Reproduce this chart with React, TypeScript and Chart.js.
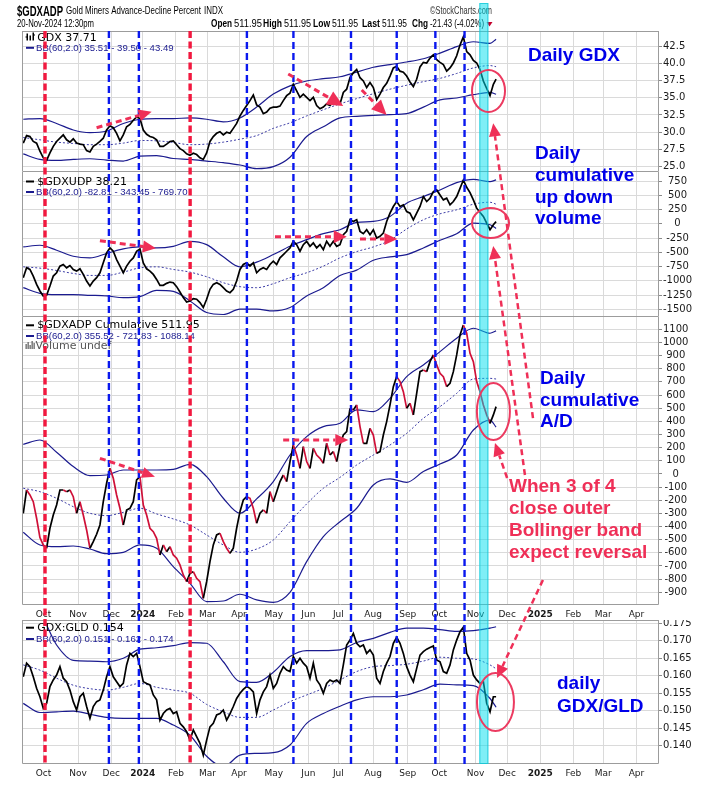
import React, { useEffect, useRef } from "react";
import { Chart, registerables } from "chart.js";

Chart.register(...registerables);

// ---------------- time axis (trading-day index) ----------------
const monthTicks = [14, 36, 57, 77, 98, 118, 138, 160, 182, 201, 223, 245, 265, 288, 308, 329, 350, 369, 390];
const monthLabels = ["Oct", "Nov", "Dec", "2024", "Feb", "Mar", "Apr", "May", "Jun", "Jul", "Aug", "Sep", "Oct", "Nov", "Dec", "2025", "Feb", "Mar", "Apr"];
const X_MIN = 0.4;
const X_MAX = 404.3;

// samples roughly every 2.1 trading days, last sample = 20-Nov-2024
const SAMPLE_COUNT = 142;
const FIRST_DAY = 1.2;
const DAY_STEP = 2.114;
const LAST_DAY = 301;
const sampleDays = [...Array.from({ length: SAMPLE_COUNT }, (_, k) => FIRST_DAY + DAY_STEP * k), LAST_DAY];
const bandDays = sampleDays.filter((_, k) => k % 5 === 0 && k <= 140).concat([LAST_DAY]);

// annotation marks (trading-day index)
const redMarks = [15, 107];
const blueMarks = [55.5, 74.5, 143, 172.5, 209, 238, 262.5, 281];
const cyanSpan = [290.4, 296.1];

// ---------------- GDX ----------------
const gdxClose = [
  28.42, 29.51, 29.37, 28.66, 28.42, 27.24, 26.29, 25.91, 27.0, 27.95,
  28.66, 29.13, 29.61, 28.9, 28.56, 29.04, 28.42, 28.28, 28.19, 27.33,
  27.14, 27.95, 28.28, 28.66, 29.13, 30.32, 30.93, 30.65, 29.84, 28.75,
  29.61, 30.79, 31.12, 31.74, 32.21, 31.98, 30.32, 29.7, 29.37, 29.23,
  28.9, 27.95, 27.95, 28.28, 28.66, 28.75, 28.19, 27.62, 27.33, 26.86,
  26.67, 26.95, 26.76, 26.29, 26.05, 27.0, 28.66, 29.37, 29.84, 30.08,
  29.61, 29.99, 29.84, 30.56, 31.27, 32.36, 33.16, 33.87, 34.58, 35.39,
  33.97, 33.64,
  32.69, 32.93, 33.49, 33.64, 33.64, 33.78, 34.58, 35.3, 35.67, 36.95,
  36.01, 35.06, 35.53, 35.06, 34.58, 35.06, 33.87, 33.4, 33.64, 34.11,
  33.87, 34.35, 34.11, 34.11, 35.77, 36.24, 37.9, 38.61, 39.09, 37.9,
  37.43, 36.48, 37.19, 36.48, 34.73, 35.53, 36.48, 37.1, 38.14, 39.32,
  39.56, 38.85, 38.71, 38.14, 37.29, 36.62, 37.67, 39.47, 40.13, 40.04,
  40.75, 41.22, 40.51, 40.13, 39.8, 38.85, 39.32, 40.04, 41.08, 42.64,
  43.83, 41.69, 41.22, 40.41, 40.04, 39.09, 37.43, 36.34, 35.3, 36.95,
  37.71,
];
const gdxUpper = [31.88, 31.98, 31.27, 30.32, 29.94, 30.18, 31.27, 31.88, 31.98, 31.98, 32.07, 31.88, 31.5, 32.07, 33.64, 35.53, 36.72, 37.43, 37.76, 38.04, 38.71, 39.42, 39.8, 40.18, 40.65, 41.46, 42.41, 43.12, 42.88, 43.49];
const gdxMid = [29.23, 28.9, 28.56, 28.37, 28.19, 28.19, 28.42, 28.8, 28.75, 28.52, 28.19, 28.28, 28.56, 28.99, 29.51, 30.56, 31.36, 32.36, 33.26, 34.11, 34.87, 35.58, 36.24, 36.81, 37.33, 37.81, 38.52, 39.32, 39.66, 39.5];
const gdxLower = [26.86, 26.05, 25.91, 26.05, 26.15, 25.96, 25.82, 26.53, 26.62, 26.19, 26.05, 25.82, 25.58, 25.25, 24.72, 25.01, 26.38, 29.37, 30.79, 32.07, 32.31, 32.45, 32.55, 32.69, 33.64, 34.68, 34.96, 35.44, 35.77, 35.51];
const gdxTicks = [25, 27.5, 30, 32.5, 35, 37.5, 40, 42.5];

// ---------------- $GDXUDP ----------------
const udpClose = [
  -946, -772, -801, -917, -1063, -1179, -1266, -1254, -1092, -917,
  -859, -743, -714, -772, -732, -801, -830, -790, -888, -1005,
  -1092, -1005, -946, -859, -685, -511, -424, -482, -627, -743,
  -859, -743, -656, -598, -482, -441, -685, -790, -830, -888,
  -976, -1080, -1080, -1045, -1022, -1034, -1103, -1196, -1295, -1371,
  -1353, -1313, -1324, -1382, -1469, -1324, -1150, -1063, -1034, -1063,
  -1121, -1179, -1208, -1150, -1005, -801, -714, -685, -743, -685,
  -859, -801,
  -772, -801, -714, -656, -714, -598, -540, -482, -424, -307,
  -366, -482, -366, -307, -395, -336, -424, -366, -453, -307,
  -395, -307, -395, -366, -191, -133, 70, 41, 70, -133,
  -174, -104, -191, -104, -249, -220, -162, 41, 186, 303,
  390, 303, 332, 215, 186, 70, 186, 303, 477, 390,
  448, 564, 593, 506, 419, 448, 332, 390, 477, 622,
  767, 640, 547, 419, 274, 198, 128, 12, -104, -17,
  38,
];
const udpUpper = [-406, -377, -464, -569, -598, -522, -441, -406, -424, -395, -307, -366, -580, -755, -673, -540, -395, -278, -174, -104, 24, 41, 128, 361, 477, 593, 721, 779, 738, 770];
const udpMid = [-755, -778, -819, -871, -906, -906, -848, -772, -755, -801, -848, -929, -1034, -1103, -1121, -1051, -946, -859, -743, -598, -488, -406, -290, -92, 70, 175, 245, 343, 378, 343];
const udpLower = [-1121, -1220, -1243, -1243, -1254, -1266, -1295, -1278, -1167, -1185, -1353, -1557, -1591, -1498, -1498, -1528, -1469, -1266, -1121, -906, -813, -639, -580, -540, -424, -290, -174, 12, -17, -83];
const udpTicks = [-1500, -1250, -1000, -750, -500, -250, 0, 250, 500, 750];

// ---------------- $GDXADP cumulative ----------------
const adpClose = [
  -299, -122, -160, -211, -337, -484, -540, -565, -413, -312,
  -236, -122, -122, -135, -122, -173, -299, -211, -312, -426,
  -565, -515, -459, -388, -211, -71, 43, -33, -160, -261,
  -388, -274, -261, -211, -45, -20, -236, -312, -413, -439,
  -489, -616, -540, -591, -553, -616, -641, -692, -768, -819,
  -756, -743, -794, -819, -946, -819, -667, -540, -464, -451,
  -515, -565, -604, -565, -413, -287, -198, -173, -185, -261,
  -375, -299,
  -274, -299, -135, -211, -135, -58, -8, -58, 94, 220,
  144, 43, 208, 94, 43, 195, 144, 119, 81, 233,
  144, 170, 94, 220, 296, 322, 499, 487, 525, 360,
  233, 233, 347, 296, 157, 170, 296, 398, 525, 664,
  740, 702, 626, 499, 537, 449, 613, 778, 791, 778,
  854, 905, 829, 765, 740, 664, 689, 778, 905, 1057,
  1133, 1070, 917, 854, 702, 626, 525, 449, 385, 449,
  512,
];
const adpUpper = [225, 258, 165, 56, -13, -8, 30, 30, 30, 35, 73, -20, -185, -299, -190, -58, 144, 284, 360, 385, 487, 474, 575, 740, 829, 930, 1032, 1108, 1070, 1088];
const adpMid = [-109, -135, -185, -249, -299, -317, -292, -261, -304, -342, -388, -464, -540, -596, -571, -502, -363, -228, -109, -26, 68, 144, 220, 309, 423, 512, 613, 722, 727, 722];
const adpLower = [-444, -540, -553, -548, -571, -606, -596, -540, -565, -705, -832, -971, -966, -915, -958, -976, -900, -667, -477, -363, -261, -84, -38, -64, 18, 76, 144, 334, 410, 356];
const adpTicks = [-900, -800, -700, -600, -500, -400, -300, -200, -100, 0, 100, 200, 300, 400, 500, 600, 700, 800, 900, 1000, 1100];

// ---------------- GDX:GLD ----------------
const ratioClose = [
  0.1597, 0.1636, 0.1626, 0.1597, 0.1564, 0.154, 0.1507, 0.1521, 0.1569, 0.1588,
  0.1602, 0.1626, 0.1593, 0.1583, 0.1559, 0.1526, 0.1502, 0.154, 0.155, 0.1512,
  0.1478, 0.1512, 0.1526, 0.1531, 0.1559, 0.1597, 0.1626, 0.1597, 0.1583, 0.1569,
  0.1578, 0.1631, 0.1664, 0.1655, 0.1664, 0.1626, 0.1583, 0.1578, 0.1574, 0.1545,
  0.1531, 0.1473, 0.1492, 0.1502, 0.1507, 0.1492, 0.1497, 0.1464, 0.1454, 0.144,
  0.1416, 0.1445, 0.1426, 0.1407, 0.1373, 0.1416, 0.1454, 0.1464, 0.1488, 0.1492,
  0.1502, 0.1473, 0.1491, 0.1512, 0.1535, 0.155, 0.1561, 0.1569, 0.1564, 0.1554,
  0.1492, 0.1531,
  0.1554, 0.1569, 0.1602, 0.1564, 0.1578, 0.1607, 0.1626, 0.1616, 0.1612, 0.1655,
  0.1636, 0.165, 0.1636, 0.1626, 0.1593, 0.1636, 0.1588, 0.1574, 0.155, 0.1578,
  0.1588, 0.1583, 0.1588, 0.1578, 0.1631, 0.1688, 0.1702, 0.1721, 0.1693, 0.1683,
  0.1688, 0.1664, 0.1674, 0.1659, 0.1593, 0.1578, 0.1612, 0.1636, 0.1655, 0.1693,
  0.171, 0.1693, 0.1664, 0.1626, 0.1602, 0.1583, 0.1621, 0.1659, 0.1669, 0.1676,
  0.1681, 0.1685, 0.1645, 0.164, 0.1612, 0.1607, 0.1631, 0.1674, 0.1702, 0.1726,
  0.1739, 0.1664, 0.1645, 0.1602, 0.1588, 0.1578, 0.1583, 0.1521, 0.1497, 0.154,
  0.154,
];
const ratioUpper = [0.181, 0.178, 0.1688, 0.1644, 0.1642, 0.164, 0.165, 0.1676, 0.168, 0.1686, 0.1695, 0.1693, 0.164, 0.1583, 0.1581, 0.161, 0.1655, 0.1672, 0.1672, 0.1674, 0.1695, 0.1707, 0.1724, 0.1736, 0.1736, 0.1732, 0.1727, 0.1729, 0.1736, 0.174];
const ratioMid = [0.1631, 0.1616, 0.1593, 0.1573, 0.1563, 0.1559, 0.1567, 0.1578, 0.1567, 0.1559, 0.155, 0.1518, 0.1497, 0.1481, 0.1481, 0.1502, 0.1526, 0.1545, 0.1564, 0.1588, 0.1612, 0.1626, 0.1629, 0.1633, 0.1642, 0.1653, 0.165, 0.1648, 0.1631, 0.162];
const ratioLower = [0.1521, 0.1495, 0.1497, 0.1499, 0.149, 0.1481, 0.1478, 0.1478, 0.1478, 0.1459, 0.143, 0.137, 0.134, 0.1373, 0.1378, 0.138, 0.1402, 0.1464, 0.1492, 0.1513, 0.1531, 0.154, 0.154, 0.1545, 0.156, 0.1576, 0.1574, 0.1572, 0.1535, 0.151];
const ratioTicks = [0.14, 0.145, 0.15, 0.155, 0.16, 0.165, 0.17, 0.175];

// ---------------- styling ----------------
const W = 701;
const H = 785;
const GRID = "#dadada";
const FRAME = "#9c9c9c";
const NAVY = "#1b1b8f";
const DOWN_RED = "#cf1038";
const MARK_RED = "#f2183f";
const MARK_BLUE = "#0a18ee";
const ANNO_RED = "#ef2f57";
const TEXT_BLUE = "#0000ea";

type Panel = {
  top: number; height: number; labelRow: number; min: number; max: number;
  ticks: number[]; fmt: (v: number) => string; main: number[]; upper: number[]; mid: number[]; lower: number[];
  updown: boolean; frameTop: boolean; legend1: string; legend2: string;
};

const PANELS: Panel[] = [
  { top: 31, height: 141, labelRow: 0, min: 24.232, max: 44.675, ticks: gdxTicks, fmt: (v) => v.toFixed(1), main: gdxClose, upper: gdxUpper, mid: gdxMid, lower: gdxLower, updown: false, frameTop: true, legend1: "GDX 37.71", legend2: "BB(60,2.0) 35.51 - 39.50 - 43.49" },
  { top: 172, height: 145, labelRow: 0, min: -1635, max: 908, ticks: udpTicks, fmt: (v) => String(Math.round(v)), main: udpClose, upper: udpUpper, mid: udpMid, lower: udpLower, updown: false, frameTop: false, legend1: "$GDXUDP 38.21", legend2: "BB(60,2.0) -82.81 - 343.45 - 769.70" },
  { top: 317, height: 288, labelRow: 15, min: -996.6, max: 1193.5, ticks: adpTicks, fmt: (v) => String(Math.round(v)), main: adpClose, upper: adpUpper, mid: adpMid, lower: adpLower, updown: true, frameTop: false, legend1: "$GDXADP Cumulative 511.95", legend2: "BB(60,2.0) 355.52 - 721.83 - 1088.14" },
  { top: 620, height: 144, labelRow: 16, min: 0.13477, max: 0.17594, ticks: ratioTicks, fmt: (v) => v.toFixed(3), main: ratioClose, upper: ratioUpper, mid: ratioMid, lower: ratioLower, updown: false, frameTop: true, legend1: "GDX:GLD 0.154", legend2: "BB(60,2.0) 0.151 - 0.162 - 0.174" },
];

const zip = (xs: number[], ys: number[]) => ys.map((y, i) => ({ x: xs[i], y }));

function framePlugin(frameTop: boolean) {
  return {
    id: "frame",
    afterDraw(chart: any) {
      const { ctx, chartArea: a } = chart;
      ctx.save();
      ctx.strokeStyle = FRAME;
      ctx.lineWidth = 1;
      ctx.beginPath();
      if (frameTop) {
        ctx.moveTo(a.left + 0.5, a.top + 0.5);
        ctx.lineTo(a.right - 0.5, a.top + 0.5);
      }
      ctx.moveTo(a.left + 0.5, a.top);
      ctx.lineTo(a.left + 0.5, a.bottom - 0.5);
      ctx.lineTo(a.right - 0.5, a.bottom - 0.5);
      ctx.lineTo(a.right - 0.5, a.top);
      ctx.stroke();
      ctx.restore();
    },
  };
}

function makeChart(canvas: HTMLCanvasElement, p: Panel): Chart {
  const showX = p.labelRow > 0;
  const band = (data: number[], dash: number[] | undefined, width: number, color: string) => ({
    data: zip(bandDays, data),
    borderColor: color,
    borderWidth: width,
    borderDash: dash,
    pointRadius: 0,
    fill: false,
    cubicInterpolationMode: "monotone" as const,
  });
  return new Chart(canvas, {
    type: "line",
    data: {
      datasets: [
        {
          data: zip(sampleDays, p.main),
          borderColor: "#000",
          borderWidth: 1.7,
          pointRadius: 0,
          fill: false,
          tension: 0,
          segment: p.updown
            ? { borderColor: (c: any) => (c.p1.parsed.y < c.p0.parsed.y ? DOWN_RED : "#000") }
            : undefined,
        } as any,
        band(p.upper, undefined, 1.2, NAVY),
        band(p.mid, [2, 2], 1, "#3c3ca6"),
        band(p.lower, undefined, 1.2, NAVY),
      ],
    },
    options: {
      animation: false,
      responsive: false,
      maintainAspectRatio: false,
      events: [],
      layout: { padding: { left: 22, right: 0, top: 0, bottom: 0 } },
      plugins: { legend: { display: false }, tooltip: { enabled: false } },
      scales: {
        x: {
          type: "linear",
          min: X_MIN,
          max: X_MAX,
          afterBuildTicks: (s: any) => {
            s.ticks = monthTicks.map((v) => ({ value: v }));
          },
          afterFit: (s: any) => {
            s.height = p.labelRow;
            s.paddingLeft = 0;
            s.paddingRight = 0;
          },
          grid: { color: GRID, drawTicks: false, lineWidth: 1 },
          border: { display: false },
          ticks: {
            display: showX,
            autoSkip: false,
            maxRotation: 0,
            padding: 4,
            color: "#1a1a1a",
            callback: (_v: any, i: number) => monthLabels[i],
            font: (c: any) => ({
              family: "DejaVu Sans",
              size: 9,
              weight: /^\d{4}$/.test(monthLabels[c.index] || "") ? "bold" : "normal",
            }),
          },
        },
        y: {
          type: "linear",
          position: "right",
          min: p.min,
          max: p.max,
          afterBuildTicks: (s: any) => {
            s.ticks = p.ticks.map((v) => ({ value: v }));
          },
          afterFit: (s: any) => {
            s.width = 42;
            s.paddingTop = 0;
            s.paddingBottom = 0;
          },
          grid: { color: GRID, tickLength: 3, tickColor: "#8a8a8a", lineWidth: 1 },
          border: { display: false },
          ticks: {
            autoSkip: false,
            crossAlign: "center",
            padding: 1,
            color: "#1a1a1a",
            font: { family: "DejaVu Sans", size: 10 },
            callback: (v: any) => p.fmt(Number(v)),
          },
        },
      },
    } as any,
    plugins: [framePlugin(p.frameTop)],
  });
}

type Anchor = { p: number; t: number; v: number };
type Arrow = { from: Anchor; to: Anchor; head: number; width: number; lw: number };

const shortArrows: Arrow[] = [
  { from: { p: 0, t: 47.7, v: 30.65 }, to: { p: 0, t: 82.6, v: 32.97 }, head: 13, width: 12, lw: 3 },
  { from: { p: 0, t: 169.2, v: 38.44 }, to: { p: 0, t: 204.1, v: 33.8 }, head: 16, width: 15, lw: 3 },
  { from: { p: 0, t: 215.8, v: 36.12 }, to: { p: 0, t: 231.6, v: 32.5 }, head: 15, width: 14, lw: 3 },
  { from: { p: 1, t: 49.8, v: -297 }, to: { p: 1, t: 85.3, v: -430 }, head: 13, width: 12, lw: 3 },
  { from: { p: 1, t: 160.8, v: -227 }, to: { p: 1, t: 206.3, v: -227 }, head: 13, width: 13, lw: 3 },
  { from: { p: 1, t: 214.7, v: -265 }, to: { p: 1, t: 238.4, v: -265 }, head: 13, width: 12, lw: 3 },
  { from: { p: 2, t: 49.8, v: 119 }, to: { p: 2, t: 84.7, v: -21 }, head: 13, width: 11, lw: 3 },
  { from: { p: 2, t: 166, v: 258 }, to: { p: 2, t: 207.3, v: 258 }, head: 13, width: 12, lw: 3 },
];
const longArrows: Arrow[] = [
  { from: { p: 2, t: 324.4, v: 425 }, to: { p: 0, t: 299.2, v: 31.29 }, head: 13, width: 12, lw: 2.5 },
  { from: { p: 2, t: 319.3, v: -8 }, to: { p: 1, t: 299.2, v: -390 }, head: 13, width: 12, lw: 2.5 },
  { from: { p: 2, t: 308, v: -31 }, to: { p: 2, t: 300.3, v: 235 }, head: 13, width: 12, lw: 2.5 },
  { from: { p: 2, t: 330.7, v: -806 }, to: { p: 3, t: 301.6, v: 0.15936 }, head: 13, width: 12, lw: 2.5 },
];
const circles = [
  { c: { p: 0, t: 296.2, v: 35.98 }, rx: 16.5, ry: 21 },
  { c: { p: 1, t: 297.5, v: 13 }, rx: 18.5, ry: 15 },
  { c: { p: 2, t: 299.3, v: 475 }, rx: 16.5, ry: 28.5 },
  { c: { p: 3, t: 300.6, v: 0.1525 }, rx: 18.5, ry: 29 },
];

function drawArrow(ctx: CanvasRenderingContext2D, x0: number, y0: number, x1: number, y1: number, a: Arrow) {
  const ang = Math.atan2(y1 - y0, x1 - x0);
  const bx = x1 - a.head * Math.cos(ang);
  const by = y1 - a.head * Math.sin(ang);
  ctx.save();
  ctx.strokeStyle = ANNO_RED;
  ctx.fillStyle = ANNO_RED;
  ctx.lineWidth = a.lw;
  ctx.setLineDash([6, 4]);
  ctx.beginPath();
  ctx.moveTo(x0, y0);
  ctx.lineTo(bx, by);
  ctx.stroke();
  ctx.setLineDash([]);
  const hw = a.width / 2;
  ctx.beginPath();
  ctx.moveTo(x1, y1);
  ctx.lineTo(bx + hw * Math.sin(ang), by - hw * Math.cos(ang));
  ctx.lineTo(bx - hw * Math.sin(ang), by + hw * Math.cos(ang));
  ctx.closePath();
  ctx.fill();
  ctx.restore();
}

function drawOverlay(cv: HTMLCanvasElement, charts: Chart[]) {
  const dpr = window.devicePixelRatio || 1;
  cv.width = W * dpr;
  cv.height = H * dpr;
  const ctx = cv.getContext("2d")!;
  ctx.setTransform(dpr, 0, 0, dpr, 0, 0);
  const xs: any = charts[0].scales.x;
  const X = (t: number) => xs.getPixelForValue(t);
  const Y = (p: number, v: number) => PANELS[p].top + (charts[p].scales.y as any).getPixelForValue(v);
  const P = (a: Anchor): [number, number] => [X(a.t), Y(a.p, a.v)];

  // ----- header -----
  ctx.textBaseline = "alphabetic";
  ctx.fillStyle = "#000";
  ctx.font = 'bold 15px "Liberation Sans"';
  ctx.fillText("$GDXADP", 17, 15.5, 46);
  ctx.font = '11px "Liberation Sans"';
  ctx.fillText("Gold Miners Advance-Decline Percent", 66, 14, 135);
  ctx.fillText("INDX", 204, 14, 19);
  ctx.fillStyle = "#333";
  ctx.fillText("\u00A9StockCharts.com", 430, 14, 62);
  ctx.fillStyle = "#000";
  ctx.font = '10.5px "Liberation Sans"';
  ctx.fillText("20-Nov-2024 12:30pm", 17, 26.5, 77);
  const ohlc: [string, number, number, boolean][] = [
    ["Open", 211, 21, true], ["511.95", 234, 28, false], ["High", 263, 19, true], ["511.95", 284, 27, false],
    ["Low", 313, 17, true], ["511.95", 332, 26, false], ["Last", 362, 18, true], ["511.95", 382, 25, false],
    ["Chg", 412, 16, true], ["-21.43 (-4.02%)", 430, 54, false],
  ];
  for (const [s, x, w, b] of ohlc) {
    ctx.font = b ? 'bold 11px "Liberation Sans"' : '10.5px "Liberation Sans"';
    ctx.fillText(s, x, 26.5, w);
  }
  ctx.fillStyle = "#c4002c";
  ctx.beginPath();
  ctx.moveTo(486.5, 22);
  ctx.lineTo(492.5, 22);
  ctx.lineTo(489.5, 26.5);
  ctx.closePath();
  ctx.fill();

  // ----- panel legends -----
  const legendY = [[40.5, 50.8], [184.5, 195], [328.3, 339], [630.7, 642]];
  PANELS.forEach((p, i) => {
    const [y1, y2] = legendY[i];
    if (i === 0) {
      ctx.fillStyle = "#000";
      ctx.fillRect(26.5, y1 - 7, 1.5, 7);
      ctx.fillRect(29.5, y1 - 5, 1.5, 5);
      ctx.fillRect(32.5, y1 - 8, 1.5, 8);
      ctx.fillRect(25.5, y1 - 4, 1.5, 1);
      ctx.fillRect(33.5, y1 - 6, 1.5, 1);
    } else {
      ctx.fillStyle = "#000";
      ctx.fillRect(26, y1 - 4, 8, 2);
    }
    ctx.fillStyle = "#000";
    ctx.font = '11px "DejaVu Sans"';
    ctx.fillText(p.legend1, 37.3, y1);
    ctx.fillStyle = NAVY;
    ctx.fillRect(26, y2 - 4, 8, 2);
    ctx.font = '9.6px "Liberation Sans"';
    ctx.fillText(p.legend2, 36, y2);
  });
  // volume undef line in panel 3
  ctx.fillStyle = "#666";
  [[25.5, 5], [27.5, 7], [29.5, 4], [31.5, 8], [33.5, 6]].forEach(([x, h]) => ctx.fillRect(x, 349 - h, 1.3, h));
  ctx.fillStyle = "#555";
  ctx.font = '11px "DejaVu Sans"';
  ctx.fillText("Volume undef", 35.5, 349);

  const yTop = Y(0, PANELS[0].max);
  const yBot = Y(3, PANELS[3].min);

  // ----- cyan highlight -----
  const cx0 = X(cyanSpan[0]);
  const cx1 = X(cyanSpan[1]);
  ctx.fillStyle = "rgba(0, 222, 238, 0.5)";
  ctx.fillRect(cx0, 3, cx1 - cx0, yBot - 3);
  ctx.strokeStyle = "rgba(20, 200, 215, 0.8)";
  ctx.lineWidth = 1;
  ctx.strokeRect(cx0 + 0.5, 3.5, cx1 - cx0 - 1, yBot - 4);

  // ----- vertical dashed markers -----
  ctx.save();
  ctx.strokeStyle = MARK_BLUE;
  ctx.lineWidth = 2.4;
  ctx.setLineDash([7, 4]);
  for (const t of blueMarks) {
    ctx.beginPath();
    ctx.moveTo(X(t), yTop);
    ctx.lineTo(X(t), yBot);
    ctx.stroke();
  }
  ctx.strokeStyle = MARK_RED;
  ctx.lineWidth = 3.4;
  ctx.setLineDash([7, 3.5]);
  for (const t of redMarks) {
    ctx.beginPath();
    ctx.moveTo(X(t), yTop);
    ctx.lineTo(X(t), yBot);
    ctx.stroke();
  }
  ctx.restore();

  // ----- arrows and ellipses -----
  for (const a of [...shortArrows, ...longArrows]) {
    const [x0, y0] = P(a.from);
    const [x1, y1] = P(a.to);
    drawArrow(ctx, x0, y0, x1, y1, a);
  }
  ctx.save();
  ctx.strokeStyle = "#ec3a60";
  ctx.lineWidth = 2;
  for (const c of circles) {
    const [x, y] = P(c.c);
    ctx.beginPath();
    ctx.ellipse(x, y, c.rx, c.ry, 0, 0, Math.PI * 2);
    ctx.stroke();
  }
  ctx.restore();

  // ----- annotation text -----
  ctx.font = 'bold 19px "Liberation Sans"';
  ctx.fillStyle = TEXT_BLUE;
  ctx.fillText("Daily GDX", 528, 61);
  ["Daily", "cumulative", "up down", "volume"].forEach((s, i) => ctx.fillText(s, 535, 159 + i * 21.8));
  ["Daily", "cumulative", "A/D"].forEach((s, i) => ctx.fillText(s, 540, 384 + i * 21.5));
  ctx.fillText("daily", 557, 689);
  ctx.fillText("GDX/GLD", 557, 712);
  ctx.fillStyle = ANNO_RED;
  ["When 3 of 4", "close outer", "Bollinger band", "expect reversal"].forEach((s, i) => ctx.fillText(s, 509, 492 + i * 22));
}

export default function App() {
  const r0 = useRef<HTMLCanvasElement>(null);
  const r1 = useRef<HTMLCanvasElement>(null);
  const r2 = useRef<HTMLCanvasElement>(null);
  const r3 = useRef<HTMLCanvasElement>(null);
  const overlay = useRef<HTMLCanvasElement>(null);
  const refs = [r0, r1, r2, r3];

  useEffect(() => {
    Chart.defaults.font.family = "DejaVu Sans";
    const charts = PANELS.map((p, i) => makeChart(refs[i].current!, p));
    drawOverlay(overlay.current!, charts);
    return () => charts.forEach((c) => c.destroy());
  }, []);

  return (
    <div style={{ position: "absolute", left: 0, top: 0, width: W, height: H, background: "#fff", overflow: "hidden" }}>
      {PANELS.map((p, i) => (
        <canvas
          key={i}
          ref={refs[i]}
          width={W}
          height={p.height + p.labelRow}
          style={{ position: "absolute", left: 0, top: p.top, width: W, height: p.height + p.labelRow }}
        />
      ))}
      <canvas
        ref={overlay}
        style={{ position: "absolute", left: 0, top: 0, width: W, height: H, pointerEvents: "none" }}
      />
    </div>
  );
}
